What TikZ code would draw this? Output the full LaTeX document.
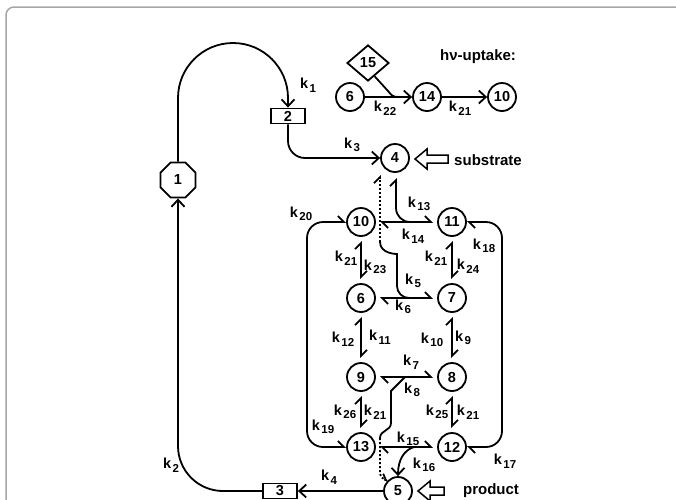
\documentclass[tikz,border=0pt]{standalone}
\usepackage{fontspec}
\setmainfont{Liberation Sans}
\usetikzlibrary{arrows.meta,shapes.geometric,calc}
\newcommand{\kx}[1]{k\kern1.5pt\raisebox{-3.5pt}{\fontsize{11.5}{11.5}\selectfont #1}}
\begin{document}
\begin{tikzpicture}[x=1pt,y=-1pt,
  lw/.style={line width=1.8pt},
  numf/.style={font=\bfseries\fontsize{14.5}{14.5}\selectfont},
  st/.style={circle,draw,lw,minimum size=28pt,inner sep=0pt,numf},
  bx/.style={rectangle,draw,lw,minimum width=34pt,minimum height=15pt,inner sep=0pt,numf},
  oct/.style={regular polygon,regular polygon sides=8,draw,lw,minimum size=38pt,inner sep=0pt,numf},
  dia/.style={diamond,draw,lw,minimum width=42pt,minimum height=36pt,inner sep=0pt,numf},
  lbl/.style={font=\bfseries\fontsize{14.5}{14.5}\selectfont,inner sep=0pt},
  txt/.style={font=\bfseries\fontsize{15}{15}\selectfont,inner sep=0pt},
  con/.style={lw},
  arr/.style={lw,-{Straight Barb[length=7pt,width=13pt]}},
  hh/.style={lw,{Straight Barb[harpoon,length=6pt,width=12pt]}-{Straight Barb[harpoon,length=6pt,width=12pt]}},
  hend/.style={lw,-{Straight Barb[harpoon,length=6pt,width=12pt]}},
  dotl/.style={lw,dash pattern=on 2pt off 2pt},
  hollow/.style={line width=1.5pt,draw,fill=white},
  framel/.style={line width=1.5pt,draw=black!35}
]
\useasboundingbox (0,0) rectangle (676,499);
\draw[framel,rounded corners=8] (6,505) -- (6,7) -- (680,7);

% nodes
\node[oct] (n1) at (178,180) {1};
\node[bx] (n2) at (288,116) {2};
\node[bx] (n3) at (280,491) {3};
\node[st] (n4) at (395,158) {4};
\node[st] (n5) at (398,491) {5};
\node[st] (n10) at (361,222) {10};
\node[st] (n11) at (452,222) {11};
\node[st] (n6) at (361,298) {6};
\node[st] (n7) at (452,298) {7};
\node[st] (n9) at (361,377) {9};
\node[st] (n8) at (452,377) {8};
\node[st] (n13) at (361,447) {13};
\node[st] (n12) at (452,447) {12};
\node[dia] (n15) at (368,63) {15};
\node[st] (t6) at (350,97) {6};
\node[st] (t14) at (427,97) {14};
\node[st] (t10) at (502,97) {10};

% texts
\node[txt] (hv) at (478,57) {hν-uptake:};
\node[txt] (sub) at (488,160) {substrate};
\node[txt] (prod) at (491,491) {product};

% hollow arrows
\draw[hollow] (415,159) -- (427,149) -- (427,155) -- (448,155) -- (448,163) -- (427,163) -- (427,169) -- cycle;
\draw[hollow] (418,491) -- (430,481) -- (430,487) -- (444,487) -- (444,495) -- (430,495) -- (430,501) -- cycle;

% outer cycle
\draw[arr,rounded corners=55] (n1.north) -- (n1.north |- 0,43) -- (n2.north |- 0,43) -- (n2.north);
\draw[arr,rounded corners=17] (n2.south) |- (n4.west);
\draw[arr] (n5.west) -- (n3.east);
\draw[arr,rounded corners=45] (n3.west) -| (n1.south);

% top hv-uptake
\coordinate (j22) at (398,97);
\draw[arr] (t6) -- (t14);
\draw[arr] (t14) -- (t10);
\draw[con] ($(n15.south)!0.3!(n15.east)$) -- (388,91) .. controls (391,95) and (393,97) .. (j22);

% horizontal harpoon pairs
\draw[hh,shorten <=4pt,shorten >=4pt] (n10) -- (n11);
\draw[hh,shorten <=4pt,shorten >=4pt] (n6) -- (n7);
\draw[hh,shorten <=4pt,shorten >=4pt] (n9) -- (n8);
\draw[hh,shorten <=4pt,shorten >=4pt] (n13) -- (n12);

% vertical harpoon pairs
\draw[hh,shorten <=4pt,shorten >=4pt] (n6) -- (n10);
\draw[hh,shorten <=4pt,shorten >=4pt] (n7) -- (n11);
\draw[hh,shorten <=4pt,shorten >=4pt] (n9) -- (n6);
\draw[hh,shorten <=4pt,shorten >=4pt] (n8) -- (n7);
\draw[hh,shorten <=4pt,shorten >=4pt] (n13) -- (n9);
\draw[hh,shorten <=4pt,shorten >=4pt] (n12) -- (n8);

% side loops
\draw[hh,rounded corners=16] (n13.west) -| (307,222) -- (n10.west);
\draw[hh,rounded corners=16] (n12.east) -| (502,222) -- (n11.east);

% 4 -> 11 (k13)
\coordinate (j13) at (420,222);
\draw[hend,rounded corners=14] (j13) -| (396,178);

% 4 -- 7 (k5)
\coordinate (j5) at (413,298);
\coordinate (d5) at (380,242);
\draw[con,rounded corners=12] (j5) -| (397,266) .. controls (397,254) and (380,254) .. (d5);
\draw[dotl,-{Straight Barb[harpoon,length=6pt,width=12pt]}] (d5) -- (380,175);

% 5 -- 8 (k7)
\coordinate (j7) at (405,377);
\coordinate (d7) at (380,438);
\draw[con] (j7) -- (391,391) -- (391,423) .. controls (391,431) and (380,430) .. (d7);
\draw[dotl,-{Straight Barb[harpoon,length=5pt,width=10pt]}] (d7) -- (380,472) .. controls (380,477) and (383,479) .. (388,481);

% 12 -> 5 (k16)
\coordinate (j16) at (414,447);
\draw[arr] (j16) .. controls (404,450) and (398,460) .. (n5.north);

% labels
\node[lbl] (k1) at (308,85) {\kx{1}};
\node[lbl] (k2) at (171,465) {\kx{2}};
\node[lbl] (k3) at (352,145) {\kx{3}};
\node[lbl] (k4) at (329,477) {\kx{4}};
\node[lbl] (k22) at (385,108) {\kx{22}};
\node[lbl] (k21t) at (460,108) {\kx{21}};
\node[lbl] (k13) at (419,204) {\kx{13}};
\node[lbl] (k14) at (413,236) {\kx{14}};
\node[lbl] (k20) at (301,214) {\kx{20}};
\node[lbl] (k18) at (484,246) {\kx{18}};
\node[lbl] (k21a) at (346,258) {\kx{21}};
\node[lbl] (k23) at (375,267) {\kx{23}};
\node[lbl] (k21b) at (436,258) {\kx{21}};
\node[lbl] (k24) at (468,266) {\kx{24}};
\node[lbl] (k5) at (413,281) {\kx{5}};
\node[lbl] (k6) at (403,307) {\kx{6}};
\node[lbl] (k12) at (343,339) {\kx{12}};
\node[lbl] (k11) at (380,337) {\kx{11}};
\node[lbl] (k10) at (432,340) {\kx{10}};
\node[lbl] (k9) at (463,338) {\kx{9}};
\node[lbl] (k7) at (411,362) {\kx{7}};
\node[lbl] (k8) at (412,390) {\kx{8}};
\node[lbl] (k26) at (345,412) {\kx{26}};
\node[lbl] (k21c) at (375,412) {\kx{21}};
\node[lbl] (k25) at (437,412) {\kx{25}};
\node[lbl] (k21d) at (468,412) {\kx{21}};
\node[lbl] (k19) at (323,427) {\kx{19}};
\node[lbl] (k15) at (408,439) {\kx{15}};
\node[lbl] (k16) at (424,465) {\kx{16}};
\node[lbl] (k17) at (505,461) {\kx{17}};
\end{tikzpicture}
\end{document}
